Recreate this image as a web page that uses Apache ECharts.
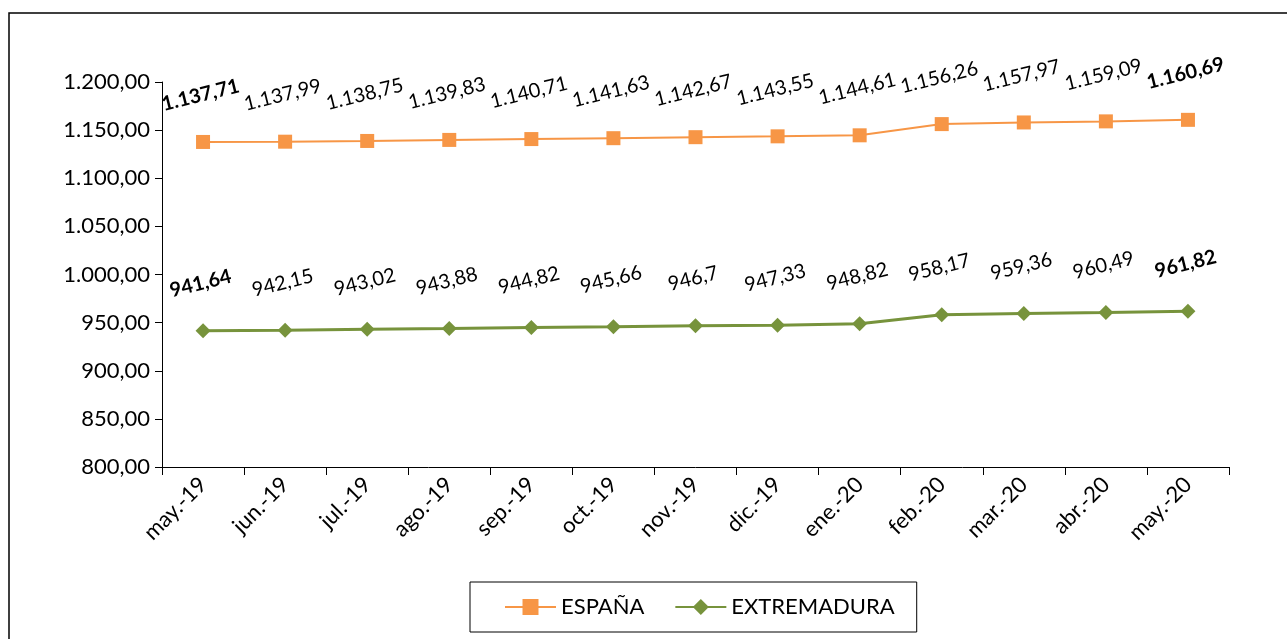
<!DOCTYPE html>
<html>
<head>
  <meta charset="utf-8">
  <title>salario</title>
  <script src="https://cdn.jsdelivr.net/npm/echarts@6/dist/echarts.min.js"></script>
</head>
<body style="margin:0;background:#fff;">
<div id="main" style="width:1287px;height:639px;"></div>
<script>
  var meses = ['may.-19', 'jun.-19', 'jul.-19', 'ago.-19', 'sep.-19', 'oct.-19', 'nov.-19',
    'dic.-19', 'ene.-20', 'feb.-20', 'mar.-20', 'abr.-20', 'may.-20'];
  var espana = [1137.71, 1137.99, 1138.75, 1139.83, 1140.71, 1141.63, 1142.67,
    1143.55, 1144.61, 1156.26, 1157.97, 1159.09, 1160.69];
  var extremadura = [941.64, 942.15, 943.02, 943.88, 944.82, 945.66, 946.7,
    947.33, 948.82, 958.17, 959.36, 960.49, 961.82];

  var fuente = 'Lato, "Open Sans", sans-serif';

  // 1137.71 -> "1.137,71"
  function numES(v, dec) {
    var s = dec != null ? v.toFixed(dec) : String(v);
    var p = s.split('.');
    var ent = p[0].replace(/\B(?=(\d{3})+(?!\d))/g, '.');
    return p.length > 1 ? ent + ',' + p[1] : ent;
  }

  // primer y ultimo punto en negrita
  function conNegrita(arr) {
    return arr.map(function (v, i) {
      if (i === 0 || i === arr.length - 1) {
        return { value: v, label: { fontWeight: 'bold' } };
      }
      return v;
    });
  }

  var myChart = echarts.init(document.getElementById('main'));

  var etiqueta = {
    show: true,
    position: 'top',
    distance: 30,
    rotate: 14,
    color: '#000',
    fontSize: 20,
    fontFamily: fuente,
    formatter: function (p) { return numES(p.value); }
  };

  option = {
    animation: false,
    graphic: [{
      type: 'rect',
      shape: { x: 9, y: 13, width: 1290, height: 640 },
      style: { fill: 'none', stroke: '#000', lineWidth: 1.5 },
      silent: true
    }],
    grid: { left: 162, right: 58, top: 82, bottom: 172 },
    legend: {
      bottom: 7,
      left: 470,
      itemWidth: 51,
      itemHeight: 20,
      itemGap: 30,
      padding: [14, 22, 14, 34],
      borderColor: '#000',
      borderWidth: 1,
      textStyle: { fontSize: 22, fontFamily: fuente, color: '#000' },
      data: ['ESPAÑA', 'EXTREMADURA']
    },
    xAxis: {
      type: 'category',
      data: meses,
      boundaryGap: true,
      axisLine: { lineStyle: { color: '#000', width: 1 } },
      axisTick: { show: true, length: 8, lineStyle: { color: '#000' } },
      axisLabel: {
        rotate: 45,
        margin: 14,
        color: '#000',
        fontSize: 22,
        fontFamily: fuente,
        interval: 0
      }
    },
    yAxis: {
      type: 'value',
      min: 800,
      max: 1200,
      interval: 50,
      axisLine: { show: true, lineStyle: { color: '#000', width: 1 } },
      axisTick: { show: true, length: 7, lineStyle: { color: '#000' } },
      splitLine: { show: false },
      axisLabel: {
        margin: 12,
        color: '#000',
        fontSize: 22,
        fontFamily: fuente,
        formatter: function (v) { return numES(v, 2); }
      }
    },
    series: [
      {
        name: 'ESPAÑA',
        type: 'line',
        data: conNegrita(espana),
        symbol: 'rect',
        symbolSize: 14,
        itemStyle: { color: '#F79646' },
        lineStyle: { color: '#F79646', width: 2 },
        label: etiqueta
      },
      {
        name: 'EXTREMADURA',
        type: 'line',
        data: conNegrita(extremadura),
        symbol: 'diamond',
        symbolSize: 15,
        itemStyle: { color: '#77933C' },
        lineStyle: { color: '#77933C', width: 3 },
        label: etiqueta
      }
    ]
  };

  myChart.setOption(option);
</script>
</body>
</html>
